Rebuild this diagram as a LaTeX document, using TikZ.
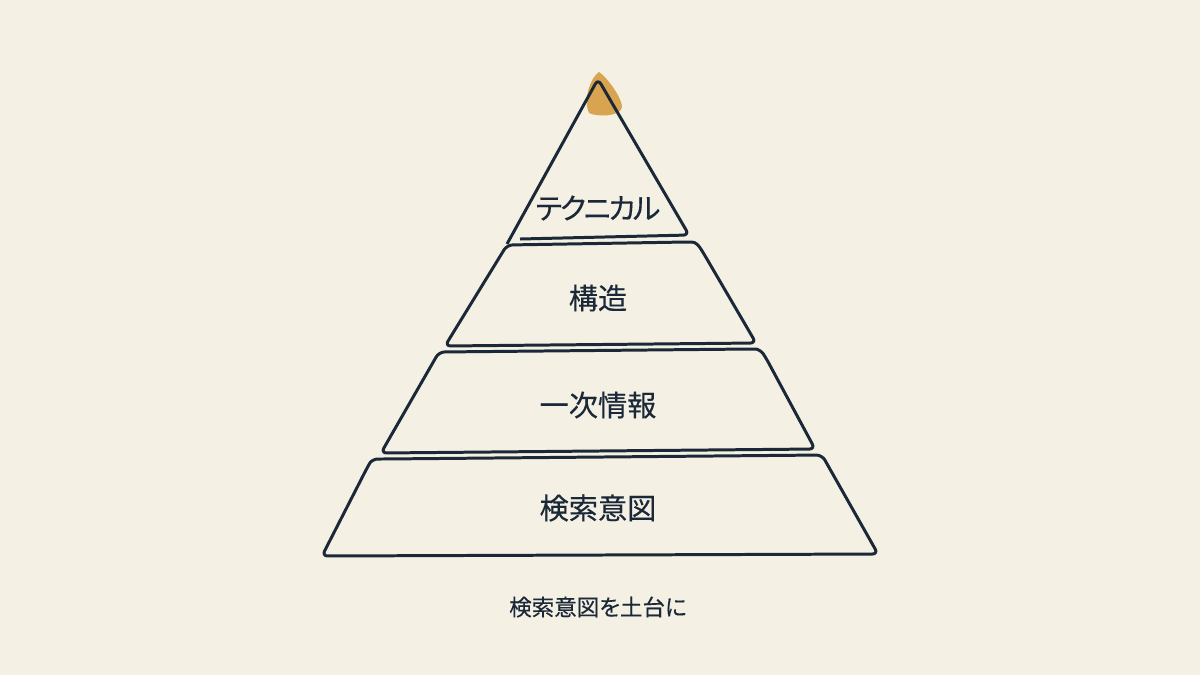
\documentclass[tikz,border=0pt]{standalone}
\usepackage{fontspec}
\usepackage{xcolor}
\newfontfamily\jpfont{Noto Sans CJK JP}[RawFeature=+palt, FakeBold=0.3]
\definecolor{paper}{HTML}{F4F1E4}
\definecolor{ink}{HTML}{1B2838}
\definecolor{gold}{HTML}{D9A44F}

\begin{document}
\begin{tikzpicture}[x=0.01cm, y=-0.01cm,
  layer/.style={draw=ink, line width=0.85pt, rounded corners=1.6pt, line join=round},
  label/.style={text=ink, font=\jpfont\fontsize{8.3pt}{10pt}\selectfont},
  caption/.style={text=ink, font=\jpfont\fontsize{6.4pt}{8pt}\selectfont}]
  % Background
  \fill[paper] (0,0) rectangle (1200,675);
  \useasboundingbox (0,0) rectangle (1200,675);

  % Gold tip
  \fill[gold] (589,113) .. controls (583,100) and (590,78) .. (599,72)
    .. controls (607,77) and (622,98) .. (622,107)
    .. controls (621,117) and (596,117) .. (589,113);

  % Top triangle
  \draw[layer] (520,239) -- (689,235) -- (598,79) -- (507,244);

  % Layers
  \draw[layer] (507,245) -- (686,242) .. controls (696,242) and (699,246) .. (704,254)
    -- (756,343) -- (445,346) -- cycle;
  \draw[layer] (439,352) -- (750,349) .. controls (758,349) and (762,352) .. (766,358)
    -- (815,449) -- (381,453) -- cycle;
  \draw[layer] (322,556) -- (367,468) .. controls (371,461) and (375,459) .. (383,459)
    -- (822,455) -- (878,554) -- cycle;

  % Labels
  \node[label] (tech) at (598,208) {\addfontfeatures{LetterSpace=-8}テクニカル};
  \node[label] (struct) at (598,298) {構造};
  \node[label] (primary) at (598,405) {一次情報};
  \node[label] (intent) at (598,508) {検索意図};

  \node[caption] (base) at (598,607) {検索意図を土台に};
\end{tikzpicture}
\end{document}
